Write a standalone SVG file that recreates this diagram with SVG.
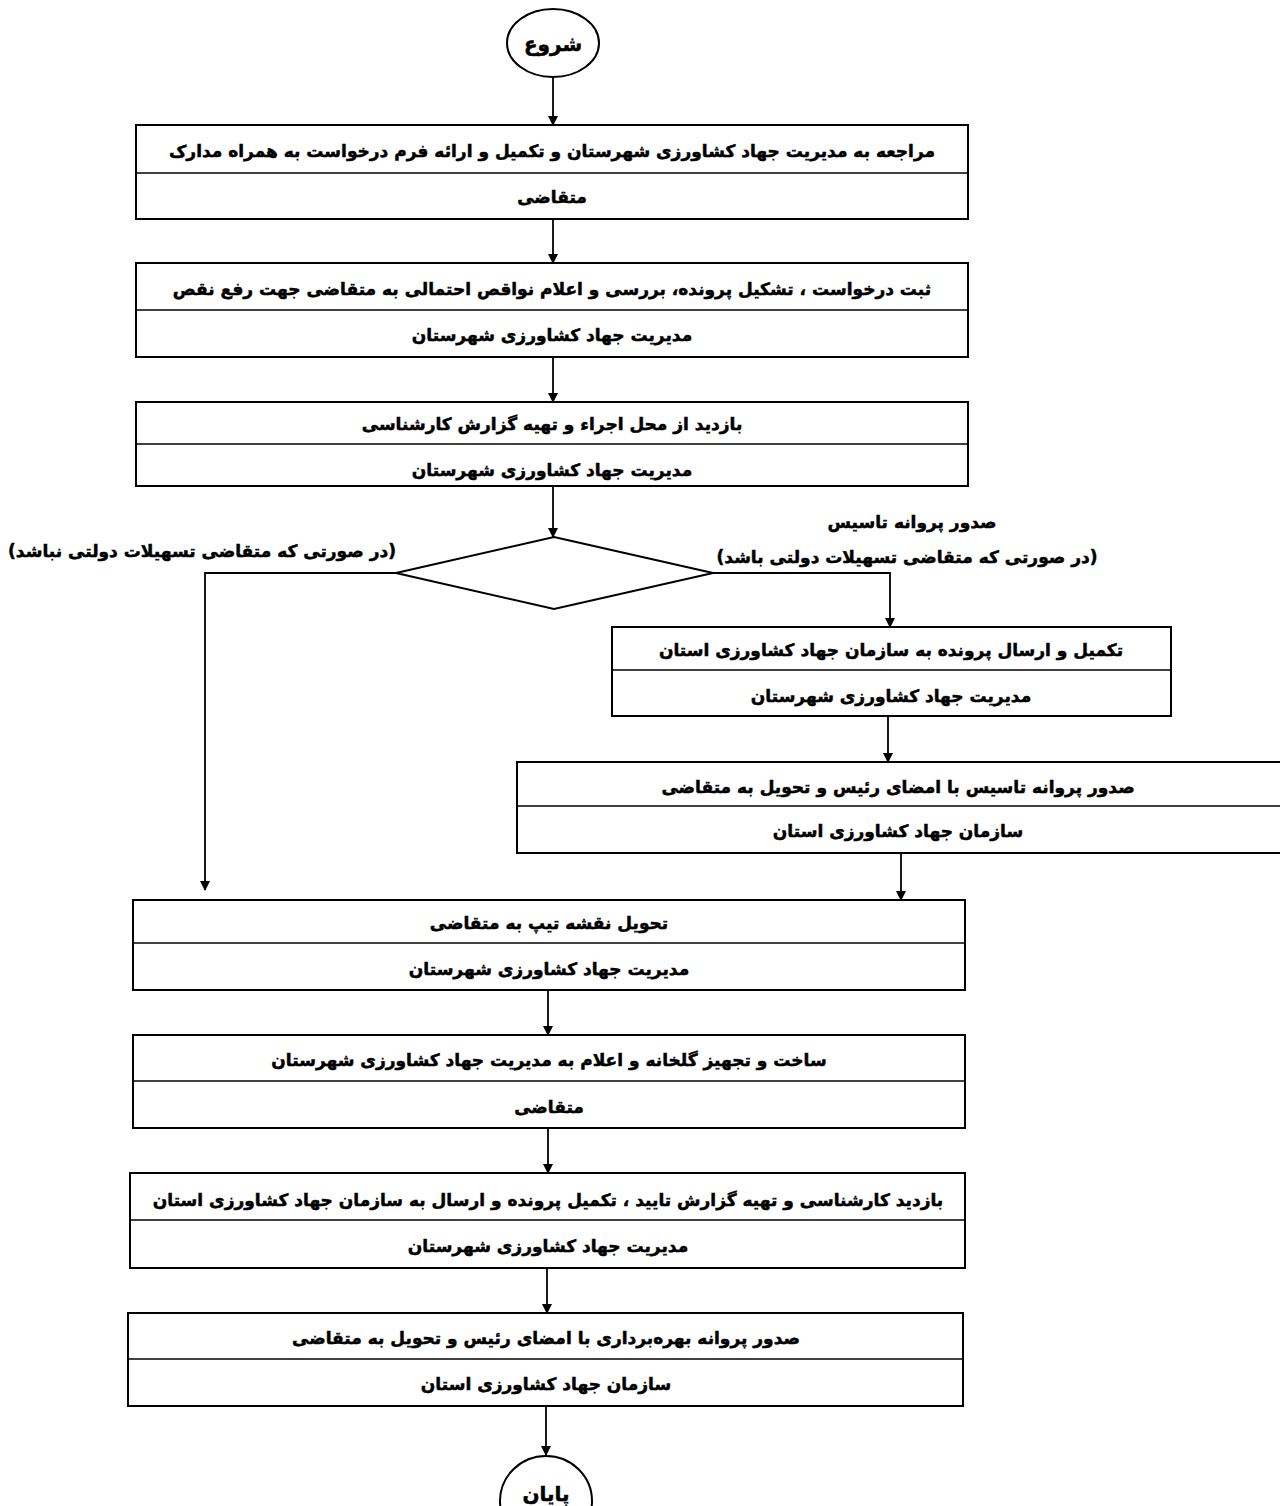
<svg xmlns="http://www.w3.org/2000/svg" width="1280" height="1506" viewBox="0 0 1280 1506">
<style>
.box{fill:#fff;stroke:#000;stroke-width:2}
.div{stroke:#000;stroke-width:1.5}
.t{font-family:"DejaVu Sans",sans-serif;font-weight:bold;font-size:17px;fill:#000;stroke:#000;stroke-width:0.5;text-anchor:middle;direction:rtl}
.big{font-size:20px}
.c{fill:none;stroke:#000;stroke-width:1.8}
</style>
<defs>
<marker id="ah" markerWidth="10" markerHeight="12" refX="9" refY="5" orient="auto" markerUnits="userSpaceOnUse">
<path d="M0,0 L10,5 L0,10 z" fill="#000"/>
</marker>
</defs>
<rect width="1280" height="1506" fill="#fff"/>
<g id="connectors">
<line class="c" x1="553" y1="77" x2="553" y2="125" marker-end="url(#ah)"/>
<line class="c" x1="553" y1="219" x2="553" y2="263" marker-end="url(#ah)"/>
<line class="c" x1="553" y1="357" x2="553" y2="402" marker-end="url(#ah)"/>
<line class="c" x1="553" y1="486" x2="553" y2="537" marker-end="url(#ah)"/>
<polyline class="c" points="396,573 205,573 205,890" marker-end="url(#ah)"/>
<polyline class="c" points="713,573 890,573 890,627" marker-end="url(#ah)"/>
<line class="c" x1="888" y1="716" x2="888" y2="762" marker-end="url(#ah)"/>
<line class="c" x1="901" y1="853" x2="901" y2="900" marker-end="url(#ah)"/>
<line class="c" x1="548" y1="990" x2="548" y2="1035" marker-end="url(#ah)"/>
<line class="c" x1="548" y1="1128" x2="548" y2="1173" marker-end="url(#ah)"/>
<line class="c" x1="547" y1="1268" x2="547" y2="1313" marker-end="url(#ah)"/>
<line class="c" x1="546" y1="1406" x2="546" y2="1455" marker-end="url(#ah)"/>
</g>
<g id="start">
<ellipse class="box" cx="553" cy="43" rx="46" ry="34"/>
<text class="t big" x="553" y="51">شروع</text>
</g>
<g id="n1">
<rect class="box" x="136" y="125" width="832" height="94"/>
<line class="div" x1="136" y1="173" x2="968" y2="173"/>
<text class="t" x="552" y="157">مراجعه به مدیریت جهاد کشاورزی شهرستان و تکمیل و ارائه فرم درخواست به همراه مدارک</text>
<text class="t" x="552" y="203">متقاضی</text>
</g>
<g id="n2">
<rect class="box" x="136" y="263" width="832" height="94"/>
<line class="div" x1="136" y1="310" x2="968" y2="310"/>
<text class="t" x="552" y="295">ثبت درخواست ، تشکیل پرونده، بررسی و اعلام نواقص احتمالی به متقاضی جهت رفع نقص</text>
<text class="t" x="552" y="341">مدیریت جهاد کشاورزی شهرستان</text>
</g>
<g id="n3">
<rect class="box" x="136" y="402" width="832" height="84"/>
<line class="div" x1="136" y1="444" x2="968" y2="444"/>
<text class="t" x="552" y="430">بازدید از محل اجراء و تهیه گزارش کارشناسی</text>
<text class="t" x="552" y="476">مدیریت جهاد کشاورزی شهرستان</text>
</g>
<g id="decision">
<polygon class="box" points="554,537 713,573 554,609 396,573"/>
<text class="t" x="202" y="557">(در صورتی که متقاضی تسهیلات دولتی نباشد)</text>
<text class="t" x="912" y="528">صدور پروانه تاسیس</text>
<text class="t" x="907" y="563">(در صورتی که متقاضی تسهیلات دولتی  باشد)</text>
</g>
<g id="n4">
<rect class="box" x="612" y="627" width="559" height="89"/>
<line class="div" x1="612" y1="670" x2="1171" y2="670"/>
<text class="t" x="891" y="656">تکمیل و ارسال پرونده به سازمان جهاد کشاورزی استان</text>
<text class="t" x="891" y="702">مدیریت جهاد کشاورزی شهرستان</text>
</g>
<g id="n5">
<rect class="box" x="517" y="762" width="770" height="91"/>
<line class="div" x1="517" y1="806" x2="1287" y2="806"/>
<text class="t" x="898" y="793">صدور پروانه تاسیس با امضای رئیس و تحویل به متقاضی</text>
<text class="t" x="898" y="837">سازمان جهاد کشاورزی استان</text>
</g>
<g id="n6">
<rect class="box" x="133" y="900" width="832" height="90"/>
<line class="div" x1="133" y1="943" x2="965" y2="943"/>
<text class="t" x="549" y="929">تحویل نقشه تیپ به متقاضی</text>
<text class="t" x="549" y="975">مدیریت جهاد کشاورزی شهرستان</text>
</g>
<g id="n7">
<rect class="box" x="133" y="1035" width="832" height="93"/>
<line class="div" x1="133" y1="1081" x2="965" y2="1081"/>
<text class="t" x="549" y="1066">ساخت و تجهیز گلخانه و اعلام به مدیریت جهاد کشاورزی شهرستان</text>
<text class="t" x="549" y="1113">متقاضی</text>
</g>
<g id="n8">
<rect class="box" x="130" y="1173" width="835" height="95"/>
<line class="div" x1="130" y1="1220" x2="965" y2="1220"/>
<text class="t" x="548" y="1206">بازدید کارشناسی و تهیه گزارش تایید ، تکمیل پرونده و ارسال به سازمان جهاد کشاورزی استان</text>
<text class="t" x="548" y="1252">مدیریت جهاد کشاورزی شهرستان</text>
</g>
<g id="n9">
<rect class="box" x="128" y="1313" width="835" height="93"/>
<line class="div" x1="128" y1="1359" x2="963" y2="1359"/>
<text class="t" x="546" y="1344">صدور پروانه بهره‌برداری  با امضای رئیس و تحویل به متقاضی</text>
<text class="t" x="546" y="1390">سازمان جهاد کشاورزی استان</text>
</g>
<g id="end">
<ellipse class="box" cx="546" cy="1501" rx="46" ry="45"/>
<text class="t big" x="546" y="1501">پایان</text>
</g>
</svg>
